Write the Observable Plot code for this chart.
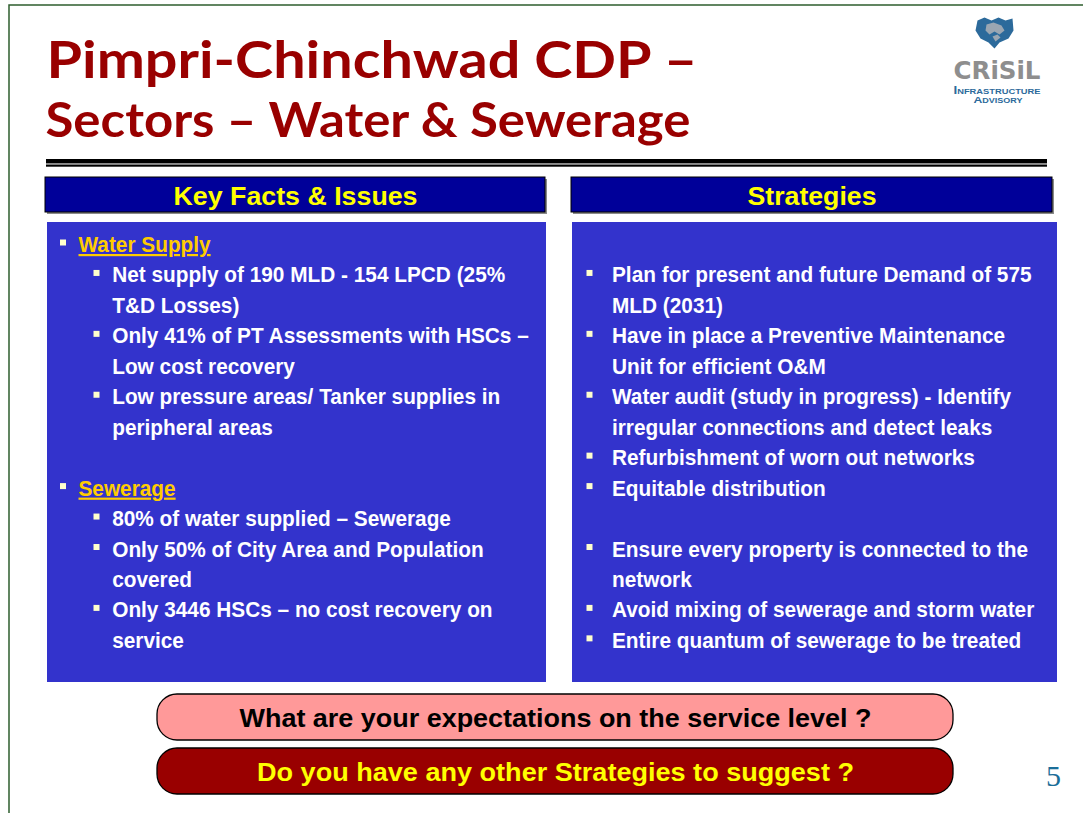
<!DOCTYPE html>
<html>
<head>
<meta charset="utf-8">
<script src="https://cdn.jsdelivr.net/npm/d3@7"></script>
<script src="https://cdn.jsdelivr.net/npm/@observablehq/plot@0.6"></script>
<style>
  html, body { margin: 0; padding: 0; background: #ffffff; }
  #slide { width: 1083px; height: 813px; overflow: hidden; }
</style>
</head>
<body>
<div id="slide"></div>
<script>
// ---------------- content ----------------
const titleLines = ["Pimpri-Chinchwad CDP –", "Sectors – Water & Sewerage"];
const panelTitles = ["Key Facts & Issues", "Strategies"];
const leftLines = [
  "Water Supply",
  "Net supply of 190 MLD - 154 LPCD (25%",
  "T&D Losses)",
  "Only 41% of PT Assessments with HSCs –",
  "Low cost recovery",
  "Low pressure areas/ Tanker supplies in",
  "peripheral areas",
  "",
  "Sewerage",
  "80% of water supplied – Sewerage",
  "Only 50% of City Area and Population",
  "covered",
  "Only 3446 HSCs – no cost recovery on",
  "service"
];
// 1 = heading bullet, 2 = bullet, 0 = continuation, -1 = blank
const leftLevels = [1, 2, 0, 2, 0, 2, 0, -1, 1, 2, 2, 0, 2, 0];
const rightLines = [
  "",
  "Plan for present and future Demand of 575",
  "MLD (2031)",
  "Have in place a Preventive Maintenance",
  "Unit for efficient O&M",
  "Water audit (study in progress) - Identify",
  "irregular connections and detect leaks",
  "Refurbishment of worn out networks",
  "Equitable distribution",
  "",
  "Ensure every property is connected to the",
  "network",
  "Avoid mixing of sewerage and storm water",
  "Entire quantum of sewerage to be treated"
];
const rightLevels = [-1, 2, 0, 2, 0, 2, 0, 2, 2, -1, 2, 0, 2, 2];
const questions = ["What are your expectations on the service level ?", "Do you have any other Strategies to suggest ?"];
const pageNumber = ["5"];
const logoWords = ["CRiSiL", "Infrastructure", "Advisory"];

// ---------------- layout (pixels) ----------------
const W = 1083, H = 813;
const layout = {
  border: {x1: 9, y1: 5, x2: 1100, y2: 830},
  title: [{x: 46, base: 77.5, size: 52, len: 651}, {x: 45, base: 136.7, size: 47, len: 645}],
  rule: {x1: 46, x2: 1047},
  head: {y1: 177, y2: 212, base: 204, size: 26, len: [244, 129]},
  body: {y1: 222, y2: 682, base0: 251.5, step: 30.45},
  panels: [
    {hx1: 45, hx2: 545, bx1: 47, bx2: 546, bullet1: 63, text1: 78, bullet2: 96.5, text2: 111.7},
    {hx1: 571, hx2: 1052, bx1: 572, bx2: 1057, bullet1: 589.5, text1: 611.5, bullet2: 589.5, text2: 611.5}
  ],
  pillX: [157, 953],
  pills: [{y1: 694, y2: 740, base: 726, len: 632}, {y1: 748, y2: 794, base: 780.5, len: 597}],
  page: {x: 1053, base: 785},
  logo: {x: 975, y: 17}
};

const C = {
  title: "#990000", head: "#000099", headText: "#FFFF00", body: "#3333CC",
  gold: "#FFCC00", bullet: "#FFFFCC", pink: "#FF9999", maroon: "#990000",
  border: "#2E5E2E", page: "#1B6E99", logoBlue: "#2C6A9B", logoGray: "#8E8E8E"
};

// ---------------- build rows ----------------
const rows = [], bullets = [];
[[leftLines, leftLevels], [rightLines, rightLevels]].forEach(([lines, levels], p) => {
  const P = layout.panels[p];
  lines.forEach((t, i) => {
    const lv = levels[i];
    if (lv < 0) return;
    const y = layout.body.base0 + i * layout.body.step;
    const x = lv === 1 ? P.text1 : P.text2;
    rows.push({x, y, text: t, heading: lv === 1});
    if (lv > 0) {
      const cx = lv === 1 ? P.bullet1 : P.bullet2;
      bullets.push({cx, cy: y - 9});
    }
  });
});

const headerBoxes = layout.panels.map((P, i) => ({x1: P.hx1, x2: P.hx2, y1: layout.head.y1, y2: layout.head.y2, label: panelTitles[i], cx: (P.hx1 + P.hx2) / 2}));
const bodyBoxes = layout.panels.map(P => ({x1: P.bx1, x2: P.bx2, y1: layout.body.y1, y2: layout.body.y2}));
const pillRows = layout.pills.map((q, i) => ({...q, x1: layout.pillX[0], x2: layout.pillX[1], cx: (layout.pillX[0] + layout.pillX[1]) / 2, text: questions[i]}));
const titleRows = titleLines.map((t, i) => ({...layout.title[i], text: t}));

// logo icon shapes (relative units), scaled into place
const iconOuter = [[2,3],[9,0],[16,3],[23,0],[30,3],[37,1],[38,13],[33,21],[24,25],[19,31],[13,25],[5,21],[0,13]];
const iconInner = [[11,7],[18,5],[26,8],[29,13],[24,17],[19,14],[14,17],[10,13]];
const iconInner2 = [[17,19],[22,17],[25,20],[20,24]];
const iconPts = [];
[[iconOuter, C.logoBlue], [iconInner, "#9AA6B2"], [iconInner2, "#9AA6B2"]].forEach(([pts, col], k) => {
  pts.forEach(([a, b]) => iconPts.push({x: layout.logo.x + a, y: layout.logo.y + b, k, col}));
  iconPts.push({x: layout.logo.x + pts[0][0], y: layout.logo.y + pts[0][1], k, col});
});

const bodyFont = "'Liberation Sans Narrow', 'Arial Narrow', 'Liberation Sans', Arial, sans-serif";
const sansFont = "'Liberation Sans', Arial, sans-serif";

const chart = Plot.plot({
  width: W, height: H, margin: 0,
  x: {type: "identity", axis: null},
  y: {type: "identity", axis: null},
  color: {type: "identity"},
  style: {background: "#ffffff", fontFamily: sansFont, overflow: "hidden"},
  marks: [
    // slide border
    Plot.rect([layout.border], {x1: "x1", x2: "x2", y1: "y1", y2: "y2", fill: "none", stroke: C.border, strokeWidth: 1.5}),
    // title
    Plot.text(titleRows, {x: "x", y: "base", text: "text", fontSize: d => d.size, textAnchor: "start", lineAnchor: "bottom",
      fill: C.title, fontWeight: "bold", fontFamily: "Lato, 'Noto Sans', sans-serif", ariaDescription: "title"}),
    // double rule under the title
    Plot.rect([{y1: 159, y2: 163.5, c: "#000"}, {y1: 163.5, y2: 164.7, c: "#9a9a9a"}, {y1: 164.7, y2: 166.7, c: "#000"}],
      {x1: layout.rule.x1, x2: layout.rule.x2, y1: "y1", y2: "y2", fill: "c"}),
    // header boxes with shadow
    Plot.rect(headerBoxes, {x1: d => d.x1 + 2, x2: d => d.x2 + 2, y1: d => d.y1 + 2, y2: d => d.y2 + 2, fill: "#8a8a8a"}),
    Plot.rect(headerBoxes, {x1: "x1", x2: "x2", y1: "y1", y2: "y2", fill: C.head, stroke: "#000", strokeWidth: 1}),
    Plot.text(headerBoxes, {x: "cx", y: layout.head.base, text: "label", fill: C.headText, fontSize: layout.head.size, fontWeight: "bold",
      lineAnchor: "bottom", fontFamily: sansFont, ariaDescription: "headers"}),
    // body boxes
    Plot.rect(bodyBoxes, {x1: "x1", x2: "x2", y1: "y1", y2: "y2", fill: C.body}),
    // bullets
    Plot.rect(bullets, {x1: d => d.cx - 3, x2: d => d.cx + 3, y1: d => d.cy - 3, y2: d => d.cy + 3, fill: C.bullet}),
    // body text
    Plot.text(rows, {x: "x", y: "y", text: "text", textAnchor: "start", lineAnchor: "bottom", fontSize: 22, fontWeight: "bold",
      fill: d => d.heading ? C.gold : "#ffffff", fontFamily: bodyFont, ariaDescription: "body"}),
    // question pills
    Plot.rect(pillRows, {x1: "x1", x2: "x2", y1: "y1", y2: "y2", rx: 20, fill: (d, i) => i === 0 ? C.pink : C.maroon,
      stroke: "#000", strokeWidth: 1.3}),
    Plot.text(pillRows, {x: "cx", y: "base", text: "text", fontSize: 25, fontWeight: "bold", lineAnchor: "bottom",
      fill: (d, i) => i === 0 ? "#000000" : "#FFFF00", fontFamily: sansFont, ariaDescription: "pills"}),
    // page number
    Plot.text(pageNumber, {x: layout.page.x, y: layout.page.base, text: d => d, fontSize: 30, lineAnchor: "bottom",
      fill: C.page, fontFamily: "'Liberation Serif', 'Times New Roman', serif"}),
    // logo
    Plot.line(iconPts, {x: "x", y: "y", z: "k", fill: "col", stroke: "none"}),
    Plot.text([logoWords[0]], {x: 953, y: 78.5, text: d => d, textAnchor: "start", lineAnchor: "bottom", fontSize: 25,
      fontWeight: "bold", fill: C.logoGray, fontFamily: "'DejaVu Sans', sans-serif", ariaDescription: "logo1"}),
    Plot.text([logoWords[1]], {x: 953, y: 93, text: d => d, textAnchor: "start", lineAnchor: "bottom", fontSize: 10,
      fontWeight: "bold", fontVariant: "small-caps", fill: C.logoBlue, fontFamily: sansFont, ariaDescription: "logo2"}),
    Plot.text([logoWords[2]], {x: 997.5, y: 102.5, text: d => d, lineAnchor: "bottom", fontSize: 9.5,
      fontWeight: "bold", fontVariant: "small-caps", fill: C.logoBlue, fontFamily: sansFont, ariaDescription: "logo3"})
  ]
});

document.getElementById("slide").appendChild(chart);

// ---------------- post-render adjustments ----------------
const svg = d3.select(chart);
const fit = (sel, lens) => svg.selectAll(sel).each(function(d, i) {
  this.setAttribute("textLength", lens[i]);
  this.setAttribute("lengthAdjust", "spacingAndGlyphs");
});
fit('g[aria-description="title"] text', titleRows.map(d => d.len));
fit('g[aria-description="headers"] text', layout.head.len);
fit('g[aria-description="pills"] text', pillRows.map(d => d.len));
fit('g[aria-description="logo1"] text', [87]);
fit('g[aria-description="logo2"] text', [87]);
fit('g[aria-description="logo3"] text', [49]);
// underline the headings in the left panel
svg.selectAll('g[aria-description="body"] text').each(function() {
  if (this.textContent === "Water Supply" || this.textContent === "Sewerage") {
    this.style.textDecoration = "underline";
  }
});
// if a narrow face is not available, compress body text to the reference width
const bodyTexts = svg.selectAll('g[aria-description="body"] text').nodes();
const probe = bodyTexts.find(n => n.textContent.startsWith("Net supply"));
if (probe) {
  const w = probe.getComputedTextLength();
  const k = 393 / w;
  if (Math.abs(k - 1) > 0.03) {
    bodyTexts.forEach(n => {
      n.setAttribute("textLength", n.getComputedTextLength() * k);
      n.setAttribute("lengthAdjust", "spacingAndGlyphs");
    });
  }
}
</script>
</body>
</html>
